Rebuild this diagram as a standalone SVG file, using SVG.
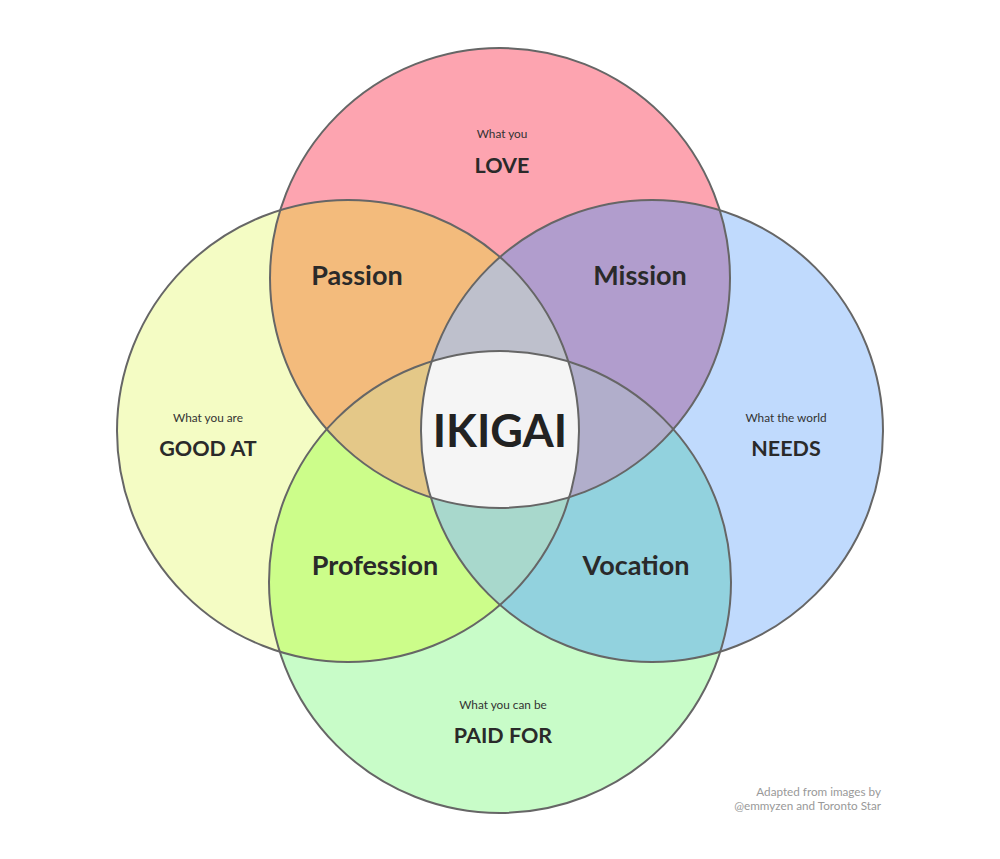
<svg xmlns="http://www.w3.org/2000/svg" width="1000" height="859" viewBox="0 0 1000 859">
<style>
.s{font-family:Lato,"Liberation Sans",sans-serif;font-size:11.8px;fill:#333;text-anchor:middle}
.b{font-family:Lato,"Liberation Sans",sans-serif;font-size:21.5px;font-weight:bold;fill:#2a2a2a;text-anchor:middle}
.r{font-family:Lato,"Liberation Sans",sans-serif;font-size:27px;font-weight:bold;fill:#2a2a2a;text-anchor:middle}
.o{fill:none;stroke:#666;stroke-width:2}
.f{font-family:Lato,"Liberation Sans",sans-serif;font-size:11.7px;fill:#999;text-anchor:end}
</style>
<defs>
<clipPath id="cT"><circle cx="500" cy="278" r="230"/></clipPath>
<clipPath id="cL"><circle cx="348" cy="431" r="231"/></clipPath>
<clipPath id="cR"><circle cx="652" cy="431" r="231"/></clipPath>
<clipPath id="cB"><circle cx="500" cy="582" r="231"/></clipPath>
</defs>
<rect width="1000" height="859" fill="#fff"/>
<g id="circles">
<circle cx="348" cy="431" r="231" fill="#f4fcc4"/>
<circle cx="652" cy="431" r="231" fill="#c0dafd"/>
<circle cx="500" cy="582" r="231" fill="#c8fcc8"/>
<circle cx="500" cy="278" r="230" fill="#fda4b0"/>
<g clip-path="url(#cT)"><circle cx="348" cy="431" r="231" fill="#f3bb7c"/><circle cx="652" cy="431" r="231" fill="#b19dcd"/></g>
<g clip-path="url(#cB)"><circle cx="348" cy="431" r="231" fill="#ccfd8a"/><circle cx="652" cy="431" r="231" fill="#92d2de"/></g>
<g clip-path="url(#cT)"><g clip-path="url(#cL)"><circle cx="652" cy="431" r="231" fill="#bec0cc"/><circle cx="500" cy="582" r="231" fill="#e4c888"/></g><g clip-path="url(#cR)"><circle cx="500" cy="582" r="231" fill="#b1aecb"/></g></g>
<g clip-path="url(#cB)"><g clip-path="url(#cL)"><circle cx="652" cy="431" r="231" fill="#a8d8cc"/></g></g>
<g clip-path="url(#cT)"><g clip-path="url(#cB)"><g clip-path="url(#cL)"><circle cx="652" cy="431" r="231" fill="#f5f5f5"/></g></g></g>
<circle class="o" cx="500" cy="278" r="230"/>
<circle class="o" cx="348" cy="431" r="231"/>
<circle class="o" cx="652" cy="431" r="231"/>
<circle class="o" cx="500" cy="582" r="231"/>
</g>
<g id="labels">
<text class="s" x="502" y="138">What you</text><text class="b" x="502" y="173">LOVE</text>
<text class="s" x="208" y="422">What you are</text><text class="b" x="208" y="456">GOOD AT</text>
<text class="s" x="786" y="422">What the world</text><text class="b" x="786" y="456">NEEDS</text>
<text class="s" x="503" y="709">What you can be</text><text class="b" x="503" y="743">PAID FOR</text>
<text class="r" x="357" y="285">Passion</text>
<text class="r" x="640" y="285">Mission</text>
<text class="r" x="375" y="575">Profession</text>
<text class="r" x="636" y="575">Vocation</text>
<text class="r" x="500" y="447" style="font-size:45px;fill:#222">IKIGAI</text>
<text class="f" x="881" y="796">Adapted from images by</text>
<text class="f" x="881" y="810">@emmyzen and Toronto Star</text>
</g>
</svg>
